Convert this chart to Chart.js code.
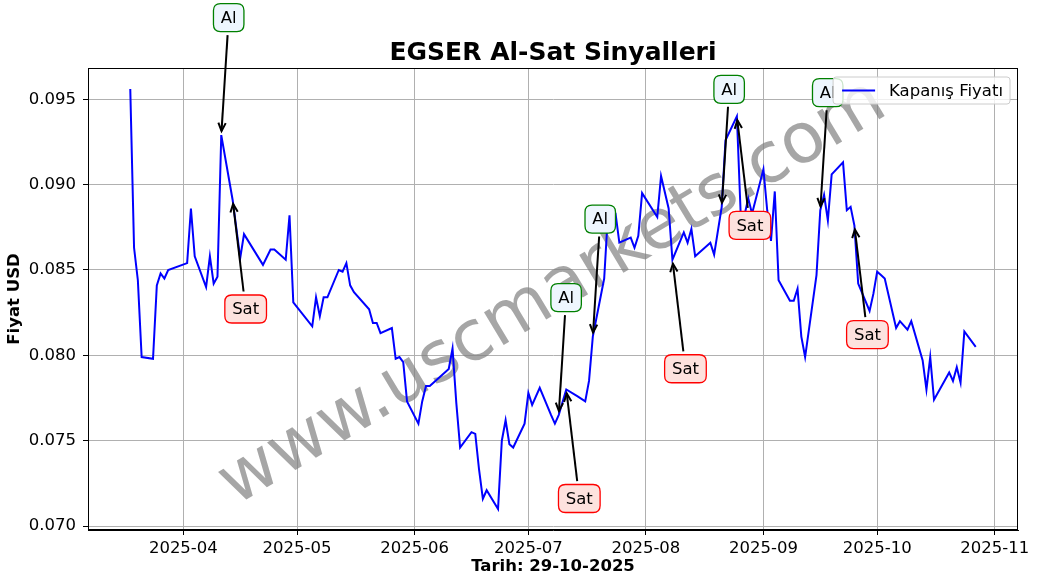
<!DOCTYPE html>
<html><head><meta charset="utf-8">
<script src="https://cdn.jsdelivr.net/npm/chart.js@4.4.1/dist/chart.umd.min.js"></script>
<style>html,body{margin:0;padding:0;background:#fff}#wrap{width:1039px;height:585px}</style>
</head><body><div id="wrap"><canvas id="c" width="1039" height="585"></canvas></div>
<script>
const dates = [
'2025-03-18','2025-03-19','2025-03-20','2025-03-21','2025-03-24','2025-03-25','2025-03-26','2025-03-27','2025-03-28',
'2025-04-02','2025-04-03','2025-04-04','2025-04-07','2025-04-08','2025-04-09','2025-04-10','2025-04-11','2025-04-14',
'2025-04-16','2025-04-17','2025-04-22','2025-04-24','2025-04-25','2025-04-28','2025-04-29','2025-04-30',
'2025-05-05','2025-05-06','2025-05-07','2025-05-08','2025-05-09','2025-05-12','2025-05-13','2025-05-14','2025-05-15','2025-05-16',
'2025-05-20','2025-05-21','2025-05-22','2025-05-23','2025-05-26','2025-05-27','2025-05-28','2025-05-29','2025-05-30',
'2025-06-02','2025-06-03','2025-06-04','2025-06-05','2025-06-10','2025-06-11','2025-06-12','2025-06-13','2025-06-16','2025-06-17',
'2025-06-18','2025-06-19','2025-06-20','2025-06-23','2025-06-24','2025-06-25','2025-06-26','2025-06-27','2025-06-30',
'2025-07-01','2025-07-02','2025-07-04','2025-07-07','2025-07-08','2025-07-09','2025-07-11','2025-07-14','2025-07-16','2025-07-17','2025-07-18',
'2025-07-21','2025-07-22','2025-07-24','2025-07-25','2025-07-28','2025-07-29','2025-07-30','2025-07-31',
'2025-08-04','2025-08-05','2025-08-07','2025-08-08','2025-08-11','2025-08-12','2025-08-13','2025-08-14','2025-08-18','2025-08-19',
'2025-08-21','2025-08-22','2025-08-25','2025-08-26','2025-08-27','2025-08-28','2025-08-29',
'2025-09-01','2025-09-02','2025-09-03','2025-09-04','2025-09-05','2025-09-08','2025-09-09','2025-09-10','2025-09-11','2025-09-12',
'2025-09-15','2025-09-16','2025-09-17','2025-09-18','2025-09-19','2025-09-22','2025-09-23','2025-09-24','2025-09-25','2025-09-26',
'2025-09-29','2025-09-30','2025-10-01','2025-10-02','2025-10-03','2025-10-06','2025-10-07','2025-10-09','2025-10-10',
'2025-10-13','2025-10-14','2025-10-15','2025-10-16','2025-10-20','2025-10-21','2025-10-22','2025-10-23','2025-10-24','2025-10-27'
];
const closes = [
0.0956,0.0863,0.0844,0.0799,0.0798,0.0841,0.0848,0.0845,0.0850,
0.0854,0.0886,0.0858,0.0840,0.0858,0.0842,0.0846,0.0929,0.0891,
0.0857,0.0871,0.0853,0.0862,0.0862,0.0856,0.0882,0.0831,
0.0817,0.0834,0.0823,0.0834,0.0834,0.0850,0.0849,0.0854,0.0841,0.0837,
0.0827,0.0819,0.0819,0.0813,0.0816,0.0798,0.0799,0.0796,0.0773,
0.0760,0.0773,0.0782,0.0782,0.0792,0.0804,0.0772,0.0746,0.0755,0.0754,
0.0733,0.0716,0.0721,0.0710,0.0750,0.0762,0.0748,0.0746,0.0760,
0.0778,0.0771,0.0781,0.0765,0.0760,0.0765,0.0780,0.0776,0.0773,0.0785,0.0811,
0.0845,0.0883,0.0883,0.0866,0.0869,0.0863,0.0870,0.0895,
0.0881,0.0905,0.0886,0.0856,0.0872,0.0866,0.0874,0.0858,0.0866,0.0859,
0.0887,0.0926,0.0940,0.0883,0.0882,0.0892,0.0883,
0.0909,0.0885,0.0867,0.0896,0.0844,0.0832,0.0832,0.0839,0.0811,0.0799,
0.0847,0.0885,0.0894,0.0879,0.0906,0.0913,0.0885,0.0887,0.0876,0.0842,
0.0826,0.0836,0.0849,0.0847,0.0845,0.0816,0.0820,0.0815,0.0820,
0.0797,0.0780,0.0799,0.0774,0.0790,0.0785,0.0793,0.0784,0.0814,0.0805
];
const buyDates  = ['2025-04-11','2025-07-09','2025-07-18','2025-08-21','2025-09-16'];
const sellDates = ['2025-04-14','2025-07-11','2025-08-08','2025-08-25','2025-09-25'];
const monthTicks = ['2025-04-01','2025-05-01','2025-06-01','2025-07-01','2025-08-01','2025-09-01','2025-10-01','2025-11-01'];
const yTicks = [0.070,0.075,0.080,0.085,0.090,0.095];
const chartTitle = 'EGSER Al-Sat Sinyalleri';
const xLabel = 'Tarih: 29-10-2025';
const yLabel = 'Fiyat USD';
const seriesLabel = 'Kapanış Fiyatı';
const buyText = 'Al', sellText = 'Sat';
const watermark = 'www.uscmarkets.com';

const FONT = '"DejaVu Sans", sans-serif';
const toDay = s => Date.UTC(+s.slice(0,4), +s.slice(5,7)-1, +s.slice(8,10)) / 86400000;
const pts = dates.map((d,i) => ({x: toDay(d), y: closes[i]}));
const xs = pts.map(p=>p.x), ys = closes;
const x0 = Math.min(...xs), x1 = Math.max(...xs), xm = (x1-x0)*0.05;
const y0 = Math.min(...ys), y1 = Math.max(...ys), ymg = (y1-y0)*0.05;
const closeAt = d => closes[dates.indexOf(d)];

function roundRect(ctx, x, y, w, h, r) {
  ctx.beginPath();
  ctx.moveTo(x+r, y); ctx.lineTo(x+w-r, y); ctx.quadraticCurveTo(x+w, y, x+w, y+r);
  ctx.lineTo(x+w, y+h-r); ctx.quadraticCurveTo(x+w, y+h, x+w-r, y+h);
  ctx.lineTo(x+r, y+h); ctx.quadraticCurveTo(x, y+h, x, y+h-r);
  ctx.lineTo(x, y+r); ctx.quadraticCurveTo(x, y, x+r, y);
  ctx.closePath();
}
function drawArrow(ctx, ax, ay, bx, by) {
  ctx.beginPath(); ctx.moveTo(ax, ay); ctx.lineTo(bx, by); ctx.stroke();
  const a = Math.atan2(by-ay, bx-ax), L = 9, W = 0.42;
  ctx.beginPath();
  ctx.moveTo(bx - L*Math.cos(a-W), by - L*Math.sin(a-W));
  ctx.lineTo(bx, by);
  ctx.lineTo(bx - L*Math.cos(a+W), by - L*Math.sin(a+W));
  ctx.stroke();
}
function signal(ctx, chart, d, text, isBuy) {
  const xS = chart.scales.x, yS = chart.scales.y;
  const px = xS.getPixelForValue(toDay(d)), py = yS.getPixelForValue(closeAt(d));
  ctx.font = '16.5px ' + FONT;
  const tw = ctx.measureText(text).width;
  const pad = 7.3, hw = tw/2 + pad, hh = 14;
  const bx = px + tw/2 - 0.5, by = isBuy ? py - 117.5 : py + 109;
  let dx = px - bx, dy = py - by; const len = Math.hypot(dx, dy); const ux = dx/len, uy = dy/len;
  const t = Math.min(hw/Math.abs(dx||1e-9), hh/Math.abs(dy||1e-9));
  const sx = bx + dx*t + ux*3.5, sy = by + dy*t + uy*3.5;
  const ex = px - ux*4, ey = py - uy*4;
  ctx.save();
  ctx.strokeStyle = '#000'; ctx.lineWidth = 2; ctx.lineCap = 'butt';
  drawArrow(ctx, sx, sy, ex, ey);
  roundRect(ctx, bx-hw, by-hh, hw*2, hh*2, 7);
  ctx.fillStyle = isBuy ? '#eef6fe' : '#fde2de';
  ctx.fill();
  ctx.lineWidth = 1.3; ctx.strokeStyle = isBuy ? '#008000' : '#ff0000';
  ctx.stroke();
  ctx.fillStyle = '#000'; ctx.textAlign = 'center'; ctx.textBaseline = 'middle';
  ctx.fillText(text, bx, by + 1);
  ctx.restore();
}

const overlay = {
  id: 'overlay',
  beforeDatasetsDraw(chart) {
    const ctx = chart.ctx, ca = chart.chartArea;
    ctx.save();
    ctx.translate((ca.left+ca.right)/2, (ca.top+ca.bottom)/2 - 5);
    ctx.rotate(-31 * Math.PI/180);
    ctx.font = '70px ' + FONT;
    ctx.fillStyle = 'rgba(128,128,128,0.7)';
    ctx.textAlign = 'center'; ctx.textBaseline = 'middle';
    ctx.fillText(watermark, 0, 0);
    ctx.restore();
  },
  afterDatasetsDraw(chart) {
    const ctx = chart.ctx, ca = chart.chartArea;
    ctx.save();
    ctx.strokeStyle = '#000'; ctx.lineWidth = 1;
    ctx.strokeRect(Math.round(ca.left)+0.5, Math.round(ca.top)+0.5, Math.round(ca.right-ca.left)-1, Math.round(ca.bottom-ca.top)-1);
    ctx.restore();
    buyDates.forEach(d => signal(ctx, chart, d, buyText, true));
    sellDates.forEach(d => signal(ctx, chart, d, sellText, false));
    ctx.save();
    ctx.font = '16.5px ' + FONT;
    const tw = ctx.measureText(seriesLabel).width;
    const w = 9 + 33 + 14 + tw + 7, h = 27;
    const lx = ca.right - 8 - w, ly = ca.top + 9;
    roundRect(ctx, lx, ly, w, h, 3);
    ctx.fillStyle = 'rgba(255,255,255,0.8)'; ctx.fill();
    ctx.strokeStyle = '#cccccc'; ctx.lineWidth = 1; ctx.stroke();
    ctx.strokeStyle = '#0000ff'; ctx.lineWidth = 2;
    ctx.beginPath(); ctx.moveTo(lx+9, ly+h/2); ctx.lineTo(lx+42, ly+h/2); ctx.stroke();
    ctx.fillStyle = '#000'; ctx.textAlign = 'left'; ctx.textBaseline = 'middle';
    ctx.fillText(seriesLabel, lx + 56, ly + h/2 + 1);
    ctx.restore();
  }
};

Chart.defaults.color = '#000';
Chart.defaults.font.family = FONT;
new Chart(document.getElementById('c'), {
  type: 'line',
  data: { datasets: [{ label: seriesLabel, data: pts, borderColor: '#0000ff', borderWidth: 2, pointRadius: 0, tension: 0, fill: false }] },
  options: {
    responsive: false, animation: false, devicePixelRatio: 1,
    layout: { padding: { left: 0, right: 21, top: 0, bottom: 0 } },
    plugins: {
      legend: { display: false }, tooltip: { enabled: false },
      title: { display: true, fullSize: false, text: chartTitle, color: '#000', font: { size: 25, weight: 'bold', family: FONT }, padding: { top: 38, bottom: 0 } }
    },
    scales: {
      x: {
        type: 'linear', min: x0 - xm, max: x1 + xm,
        afterBuildTicks: s => { s.ticks = monthTicks.map(d => ({ value: toDay(d) })); },
        afterFit: s => { s.height = 55; },
        ticks: { autoSkip: false, maxRotation: 0, padding: 4, color: '#000', font: { size: 16.5, family: FONT },
          callback: v => new Date(v * 86400000).toISOString().slice(0, 7) },
        grid: { color: '#b0b0b0', lineWidth: 1, tickLength: 5, tickColor: '#000', drawTicks: true },
        border: { display: true, color: '#000', width: 1 },
        title: { display: true, text: xLabel, color: '#000', font: { size: 16.5, weight: 'bold', family: FONT }, padding: { top: 0, bottom: 8 } }
      },
      y: {
        type: 'linear', min: y0 - ymg, max: y1 + ymg,
        afterBuildTicks: s => { s.ticks = yTicks.map(v => ({ value: v })); },
        afterFit: s => { s.width = 88; },
        ticks: { padding: 7, color: '#000', font: { size: 16.5, family: FONT }, callback: v => v.toFixed(3) },
        grid: { color: '#b0b0b0', lineWidth: 1, tickLength: 5, tickColor: '#000', drawTicks: true },
        border: { display: true, color: '#000', width: 1 },
        title: { display: true, text: yLabel, color: '#000', font: { size: 16.5, weight: 'bold', family: FONT }, padding: { top: 5, bottom: 0 } }
      }
    }
  },
  plugins: [overlay]
});
</script></body></html>
